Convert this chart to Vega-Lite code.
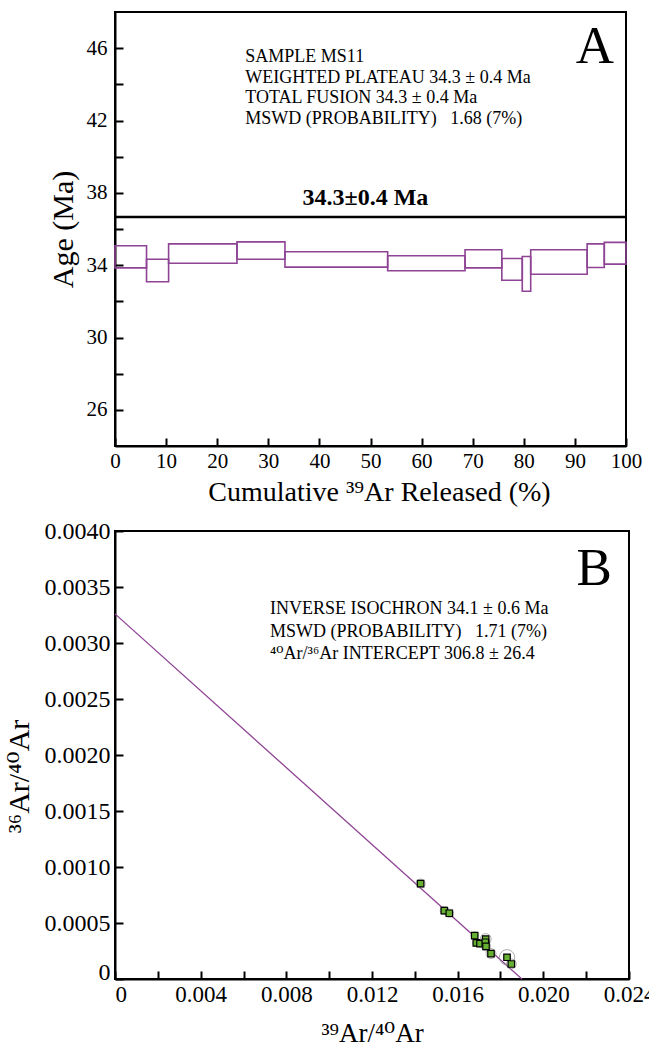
{
  "$schema": "https://vega.github.io/schema/vega-lite/v6.json",
  "padding": {"left": 3, "top": 11, "right": 0, "bottom": 0},
  "background": "white",
  "bounds": "flush",
  "spacing": 85,
  "config": {
    "font": "Liberation Serif, DejaVu Serif",
    "view": {"stroke": "black", "strokeWidth": 2},
    "axis": {
      "domainColor": "black", "domainWidth": 2,
      "tickColor": "black", "tickWidth": 2, "tickSize": -8,
      "labelColor": "black", "titleColor": "black",
      "titleFontWeight": "normal", "grid": false, "labelFlush": false,
      "labelFont": "Liberation Serif, DejaVu Serif", "titleFont": "Liberation Serif, DejaVu Serif"
    },
    "text": {"font": "Liberation Serif, DejaVu Serif", "color": "black"}
  },
  "datasets": {
    "steps": [
      {"step": 1, "start": 0, "end": 6.17, "lo": 33.85, "hi": 35.07},
      {"step": 2, "start": 6.17, "end": 10.49, "lo": 33.08, "hi": 34.33},
      {"step": 3, "start": 10.49, "end": 23.87, "lo": 34.11, "hi": 35.18},
      {"step": 4, "start": 23.87, "end": 33.26, "lo": 34.33, "hi": 35.29},
      {"step": 5, "start": 33.26, "end": 53.36, "lo": 33.89, "hi": 34.74},
      {"step": 6, "start": 53.36, "end": 68.5, "lo": 33.69, "hi": 34.52},
      {"step": 7, "start": 68.5, "end": 75.7, "lo": 33.85, "hi": 34.85},
      {"step": 8, "start": 75.7, "end": 79.7, "lo": 33.17, "hi": 34.37},
      {"step": 9, "start": 79.7, "end": 81.35, "lo": 32.56, "hi": 34.48},
      {"step": 10, "start": 81.35, "end": 92.4, "lo": 33.5, "hi": 34.85},
      {"step": 11, "start": 92.4, "end": 95.75, "lo": 33.87, "hi": 35.18},
      {"step": 12, "start": 95.75, "end": 100, "lo": 34.06, "hi": 35.26}
    ],
    "points": [
      {"x": 0.01427, "y": 0.000852, "d": 0.00047},
      {"x": 0.015376, "y": 0.000611, "d": 0.00042},
      {"x": 0.01561, "y": 0.000587, "d": 0.00042},
      {"x": 0.016795, "y": 0.000388, "d": 0.00037},
      {"x": 0.01687, "y": 0.000322, "d": 0.00037},
      {"x": 0.017043, "y": 0.000316, "d": 0.00037},
      {"x": 0.017309, "y": 0.000357, "d": 0.00056},
      {"x": 0.01729, "y": 0.000328, "d": 0.00047},
      {"x": 0.017323, "y": 0.000292, "d": 0.00047},
      {"x": 0.017556, "y": 0.000227, "d": 0.00051},
      {"x": 0.018304, "y": 0.000194, "d": 0.00079},
      {"x": 0.018505, "y": 0.000134, "d": 0.00051}
    ],
    "isochron": [
      {"x": 0, "y": 0.00326},
      {"x": 0.0190, "y": 0}
    ]
  },
  "vconcat": [
    {
      "width": 511,
      "height": 434,
      "layer": [
        {
          "data": {"name": "steps"},
          "mark": {"type": "rect", "fill": "white", "fillOpacity": 0, "stroke": "#8e4394", "strokeWidth": 1.6},
          "encoding": {
            "x": {
              "field": "start", "type": "quantitative",
              "scale": {"domain": [0, 100], "nice": false, "zero": false},
              "axis": {
                "values": [0, 10, 20, 30, 40, 50, 60, 70, 80, 90, 100],
                "labelFontSize": 21, "labelPadding": 12,
                "title": "Cumulative ³⁹Ar Released (%)",
                "titleFontSize": 28, "titlePadding": 7, "titleX": 264
              }
            },
            "x2": {"field": "end"},
            "y": {
              "field": "lo", "type": "quantitative",
              "scale": {"domain": [24, 48], "nice": false, "zero": false},
              "axis": {
                "values": [26, 28, 30, 32, 34, 36, 38, 40, 42, 44, 46],
                "labelExpr": "(datum.value - 26) % 4 == 0 ? datum.label : ''",
                "labelFontSize": 21, "labelPadding": 16,
                "title": "Age (Ma)", "titleFontSize": 30, "titlePadding": 8
              }
            },
            "y2": {"field": "hi"}
          }
        },
        {
          "data": {"values": [{}]},
          "mark": {"type": "rule", "color": "black", "strokeWidth": 2.5},
          "encoding": {"y": {"datum": 36.67}}
        },
        {
          "data": {"values": [{}]},
          "mark": {"type": "text", "fontWeight": "bold", "fontSize": 24, "align": "center", "baseline": "alphabetic"},
          "encoding": {"x": {"datum": 49.0}, "y": {"datum": 37.32}, "text": {"value": "34.3±0.4 Ma"}}
        },
        {
          "data": {"values": [{}]},
          "mark": {"type": "text", "fontSize": 18, "align": "left", "baseline": "alphabetic", "lineHeight": 20.8},
          "encoding": {
            "x": {"datum": 25.5}, "y": {"datum": 45.25},
            "text": {"value": ["SAMPLE MS11", "WEIGHTED PLATEAU 34.3 ± 0.4 Ma", "TOTAL FUSION 34.3 ± 0.4 Ma", "MSWD (PROBABILITY)\u00a0\u00a0 1.68 (7%)"]}
          }
        },
        {
          "data": {"values": [{}]},
          "mark": {"type": "text", "fontSize": 53, "align": "center", "baseline": "alphabetic"},
          "encoding": {"x": {"datum": 93.9}, "y": {"datum": 45.16}, "text": {"value": "A"}}
        }
      ]
    },
    {
      "width": 514,
      "height": 448,
      "layer": [
        {
          "data": {"name": "isochron"},
          "mark": {"type": "line", "color": "#8e4394", "strokeWidth": 1.3},
          "encoding": {
            "x": {
              "field": "x", "type": "quantitative",
              "scale": {"domain": [0, 0.024], "nice": false},
              "axis": {
                "values": [0, 0.002, 0.004, 0.006, 0.008, 0.01, 0.012, 0.014, 0.016, 0.018, 0.02, 0.022, 0.024],
                "labelExpr": "datum.value == 0 ? '0' : (round(datum.value * 1000) % 4 == 0 ? format(datum.value, '.3f') : '')",
                "labelAlign": {"condition": {"test": "datum.value == 0", "value": "left"}, "value": "center"},
                "labelFontSize": 23, "labelPadding": 12,
                "title": "³⁹Ar/⁴⁰Ar", "titleFontSize": 27, "titlePadding": 14
              }
            },
            "y": {
              "field": "y", "type": "quantitative",
              "scale": {"domain": [0, 0.004], "nice": false},
              "axis": {
                "values": [0, 0.0005, 0.001, 0.0015, 0.002, 0.0025, 0.003, 0.0035, 0.004],
                "labelExpr": "datum.value == 0 ? '0' : format(datum.value, '.4f')",
                "labelBaseline": {"condition": {"test": "datum.value == 0", "value": "alphabetic"}, "value": "middle"},
                "labelFontSize": 24, "labelPadding": 13,
                "title": "³⁶Ar/⁴⁰Ar", "titleFontSize": 30, "titlePadding": 10, "titleY": 245
              }
            }
          }
        },
        {
          "data": {"name": "points"},
          "mark": {"type": "point", "shape": "circle", "filled": false, "stroke": "#8c8c8c", "strokeWidth": 1},
          "encoding": {
            "x": {"field": "x", "type": "quantitative"},
            "y": {"field": "y", "type": "quantitative"},
            "size": {"field": "d", "type": "quantitative", "scale": {"type": "pow", "exponent": 2, "domain": [0, 0.0008], "range": [0, 240]}, "legend": null}
          }
        },
        {
          "data": {"name": "points"},
          "mark": {"type": "square", "size": 42, "fill": "#66b032", "stroke": "black", "strokeWidth": 1.2, "opacity": 1},
          "encoding": {
            "x": {"field": "x", "type": "quantitative"},
            "y": {"field": "y", "type": "quantitative"}
          }
        },
        {
          "data": {"values": [{}]},
          "mark": {"type": "text", "fontSize": 18, "align": "left", "baseline": "alphabetic", "lineHeight": 22.5},
          "encoding": {
            "x": {"datum": 0.00724}, "y": {"datum": 0.003258},
            "text": {"value": ["INVERSE ISOCHRON 34.1 ± 0.6 Ma", "MSWD (PROBABILITY)\u00a0\u00a0 1.71 (7%)", "⁴⁰Ar/³⁶Ar INTERCEPT 306.8 ± 26.4"]}
          }
        },
        {
          "data": {"values": [{}]},
          "mark": {"type": "text", "fontSize": 53, "align": "right", "baseline": "alphabetic"},
          "encoding": {"x": {"datum": 0.0232}, "y": {"datum": 0.003517}, "text": {"value": "B"}}
        }
      ]
    }
  ]
}
